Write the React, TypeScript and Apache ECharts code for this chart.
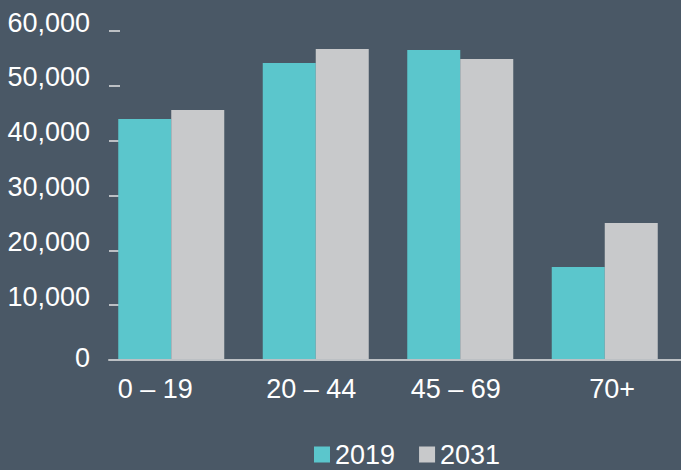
import React, { useEffect, useRef } from "react";
import * as echarts from "echarts";

const categories = ["0 – 19", "20 – 44", "45 – 69", "70+"];
const seriesNames = ["2019", "2031"];
const values2019 = [43950, 54150, 56550, 16950];
const values2031 = [45600, 56700, 54900, 25000];
const yMin = 0;
const yMax = 60000;
const yStep = 10000;

const BG = "#4a5866";
const TEAL = "#5bc6cc";
const GREY = "#c8c9cb";
const AXIS = "#bcc0c4";
const FONT = "'Liberation Sans', Arial, Helvetica, sans-serif";
const FS = 27;
const X_LABEL_SHIFT = [-16, -4.5, -4.5, 7.4];

const fmt = (v: number) => v.toString().replace(/\B(?=(\d{3})+(?!\d))/g, ",");

export default function App() {
  const ref = useRef<HTMLDivElement>(null);
  useEffect(() => {
    document.body.style.margin = "0";
    document.body.style.background = BG;
    const chart = echarts.init(ref.current!, undefined, { renderer: "svg" });
    const xRich: Record<string, any> = {};
    X_LABEL_SHIFT.forEach((s, i) => {
      xRich["c" + i] = {
        fontSize: FS,
        fontFamily: FONT,
        color: "#ffffff",
        padding: s < 0 ? [0, -2 * s, 0, 0] : [0, 0, 0, 2 * s],
      };
    });
    chart.setOption({
      animation: false,
      backgroundColor: BG,
      textStyle: { fontFamily: FONT },
      grid: [
        { left: 99, right: 4, top: 31, height: 329 },
        { left: 109, right: 0, top: 31, height: 329 },
      ],
      legend: {
        left: 314,
        top: 441,
        padding: 0,
        data: seriesNames,
        icon: "rect",
        itemWidth: 16,
        itemHeight: 16,
        itemGap: 24,
        textStyle: { color: "#ffffff", fontSize: FS, fontFamily: FONT, lineHeight: 22 },
      },
      xAxis: [
        {
          type: "category",
          gridIndex: 0,
          data: categories,
          axisLine: { show: false },
          axisTick: { show: false },
          axisLabel: {
            margin: 15,
            interval: 0,
            formatter: (v: string, i: number) => `{c${i}|${v}}`,
            rich: xRich,
          },
        },
        {
          type: "value",
          gridIndex: 1,
          min: 0,
          max: 1,
          z: 5,
          axisLine: { show: true, lineStyle: { color: AXIS, width: 2 } },
          axisTick: { show: false },
          axisLabel: { show: false },
          splitLine: { show: false },
        },
      ],
      yAxis: [
        {
          type: "value",
          gridIndex: 0,
          min: yMin,
          max: yMax,
          interval: yStep,
          show: false,
        },
        {
          type: "value",
          gridIndex: 1,
          min: yMin,
          max: yMax,
          interval: yStep,
          axisLine: { show: false },
          axisTick: {
            show: true,
            inside: true,
            length: 11,
            lineStyle: { color: AXIS, width: 2 },
          },
          splitLine: { show: false },
          axisLabel: {
            margin: 19,
            formatter: (v: number) => (v === 0 ? `{z|0}` : `{n|${fmt(v)}}`),
            rich: {
              n: { fontSize: FS, fontFamily: FONT, color: "#ffffff", padding: [0, 0, 17, 0] },
              z: { fontSize: FS, fontFamily: FONT, color: "#ffffff", padding: [0, 0, 4, 0] },
            },
          },
        },
      ],
      series: [
        {
          name: seriesNames[0],
          type: "bar",
          xAxisIndex: 0,
          yAxisIndex: 0,
          data: values2019,
          barWidth: 53,
          barGap: "0%",
          itemStyle: { color: TEAL },
        },
        {
          name: seriesNames[1],
          type: "bar",
          xAxisIndex: 0,
          yAxisIndex: 0,
          data: values2031,
          barWidth: 53,
          barGap: "0%",
          itemStyle: { color: GREY },
        },
      ],
    });
    return () => chart.dispose();
  }, []);
  return (
    <div
      ref={ref}
      style={{ position: "absolute", left: 0, top: 0, width: 681, height: 470 }}
    />
  );
}
